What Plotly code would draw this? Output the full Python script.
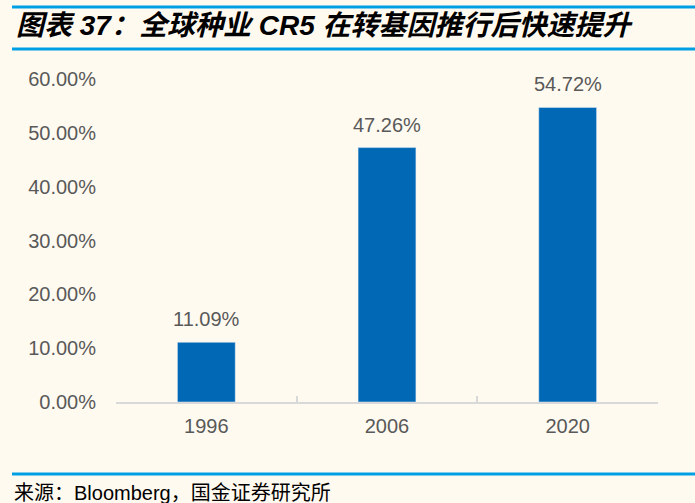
import plotly.graph_objects as go

categories = ["1996", "2006", "2020"]
values = [0.1109, 0.4726, 0.5472]
title_text = "图表 37：全球种业 CR5 在转基因推行后快速提升"
source_text = "来源：Bloomberg，国金证券研究所"

W, H = 695, 503
L, R, T, B = 116, 658, 79, 402
BG = "#FFFAF0"
LINE = "#009FE3"
BAR = "#0068B5"
GREY = "#595959"
FONT = "Liberation Sans, Arial"


def px_x(x):
    return (x - L) / (R - L)


def px_y(y):
    return (B - y) / (B - T)


fig = go.Figure()
fig.add_trace(go.Bar(x=categories, y=values, marker_color=BAR, width=0.32,
                     hoverinfo="skip"))

annotations = []
for i, v in enumerate(values):
    annotations.append(dict(x=i, y=v, xref="x", yref="y", text=f"{v*100:.2f}%",
                            showarrow=False, yanchor="bottom", yshift=10,
                            font=dict(size=20, color=GREY, family=FONT)))

annotations.append(dict(x=px_x(14), y=px_y(25), xref="paper", yref="paper",
                        xanchor="left", yanchor="middle", showarrow=False,
                        text=f"<b><i>{title_text}</i></b>",
                        font=dict(size=28, color="#000000",
                                  family="Liberation Sans, Noto Sans CJK SC")))
annotations.append(dict(x=px_x(12), y=px_y(493), xref="paper", yref="paper",
                        xanchor="left", yanchor="middle", showarrow=False,
                        text=source_text,
                        font=dict(size=20, color="#000000",
                                  family="Liberation Sans, Noto Sans CJK SC")))

shapes = []
for yy in (7, 49, 474):
    shapes.append(dict(type="line", xref="paper", yref="paper",
                       x0=px_x(12), x1=px_x(W), y0=px_y(yy), y1=px_y(yy),
                       line=dict(color=LINE, width=3)))

fig.update_layout(
    width=W, height=H,
    margin=dict(l=L, r=W - R, t=T, b=H - B),
    paper_bgcolor=BG, plot_bgcolor=BG,
    showlegend=False,
    annotations=annotations,
    shapes=shapes,
    xaxis=dict(type="category", range=[-0.5, 2.5], showline=True,
               linecolor="#D9D9D9", linewidth=2, automargin=False,
               ticks="inside", tickson="boundaries", ticklen=6, tickcolor="#D9D9D9",
               tickwidth=2, ticklabelstandoff=5, showgrid=False, zeroline=False,
               tickangle=0,
               tickfont=dict(size=20, color=GREY, family=FONT)),
    yaxis=dict(range=[0, 0.6], dtick=0.1, tickformat=".2%", showgrid=False,
               zeroline=False, showline=False, ticks="", ticklabelstandoff=19,
               automargin=False,
               tickfont=dict(size=20, color=GREY, family=FONT)),
)

fig.write_html("out.html", config={"displayModeBar": False},
               post_script="document.body.style.margin='0';document.body.style.padding='0';")
